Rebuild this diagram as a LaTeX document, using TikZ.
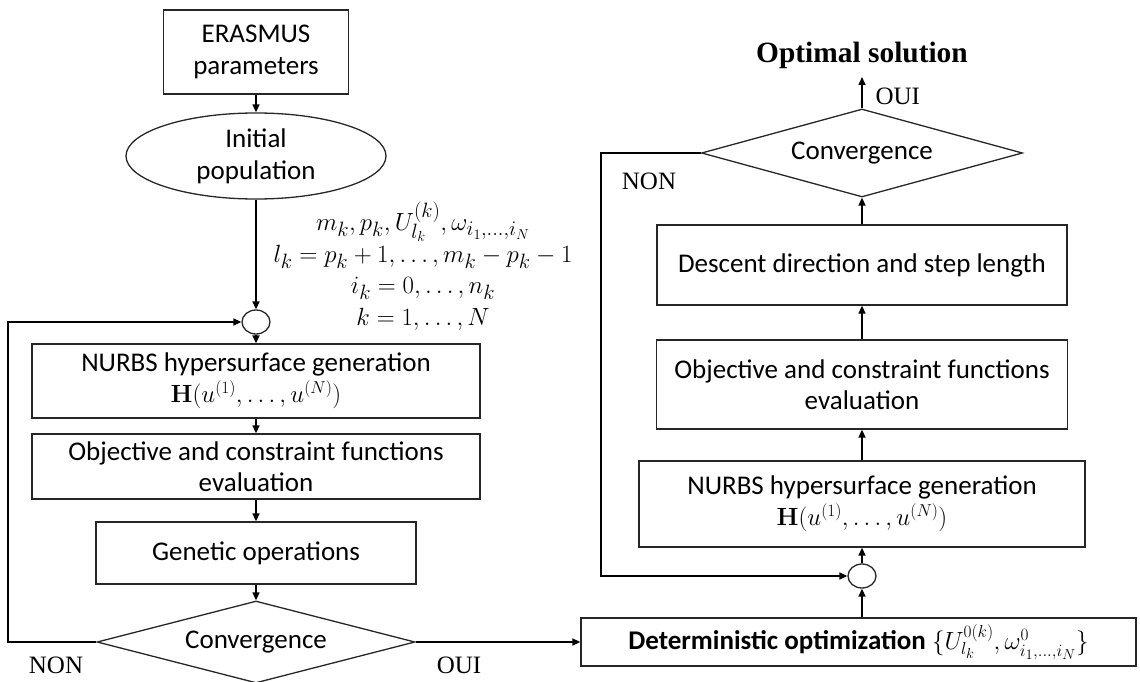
\documentclass[tikz,border=0pt]{standalone}
\usepackage[no-math]{fontspec}
\setmainfont{Carlito}
\newfontfamily\serifc{Liberation Serif}
\usetikzlibrary{shapes.geometric,arrows.meta}
\begin{document}
\begin{tikzpicture}[x=1pt,y=-1pt,
  every node/.style={font=\fontsize{27}{31}\selectfont, text=black},
  box/.style={draw=black!85, line width=1.3pt, rectangle, align=center, inner sep=0pt},
  oval/.style={draw=black!85, line width=1.3pt, ellipse, align=center, inner sep=0pt},
  junc/.style={draw=black!85, line width=1.3pt, ellipse, minimum width=28pt, minimum height=24pt, inner sep=0pt},
  dec/.style={draw=black!85, line width=1.3pt, diamond, inner sep=0pt, align=center},
  arr/.style={line width=1.5pt, -{Triangle[length=8pt,width=7pt]}},
  lab/.style={font=\serifc\fontsize{25}{30}\selectfont},
]
\useasboundingbox (0,0) rectangle (1140,682);

% left column
\node[box, minimum width=185pt, minimum height=84pt, font=\fontsize{27}{32}\selectfont] (eras) at (256,52) {ERASMUS\\parameters};
\node[oval, minimum width=260pt, minimum height=86pt, font=\fontsize{27}{32}\selectfont] (pop) at (256,156) {Initial\\population};
\node[junc] (c1) at (256,322) {};
\node[box, minimum width=448pt, minimum height=74pt] (nb1) at (256,381) {NURBS hypersurface generation\\{\fontsize{24.5}{30}\selectfont$\mathbf{H}(u^{(1)},\ldots,u^{(N)})$}};
\node[box, minimum width=448pt, minimum height=65pt] (ob1) at (256,466.5) {Objective and constraint functions\\evaluation};
\node[box, minimum width=320pt, minimum height=62pt] (gen) at (256,553) {Genetic operations};
\node[dec, minimum width=318pt, minimum height=82pt, aspect=3.9] (cv1) at (256,642) {Convergence};
\node[lab] (non1) at (56,665) {NON};
\node[lab] (oui1) at (459,665) {OUI};

\node[font=\fontsize{27.8}{31.5}\selectfont, align=center] (params) at (423,266)
  {$m_k, p_k, U^{(k)}_{l_k}, \omega_{i_1,\ldots,i_N}$\\
   $l_k = p_k+1,\ldots,m_k-p_k-1$\\
   $i_k=0,\ldots,n_k$\\
   $k=1,\ldots,N$};

% deterministic box
\node[box, minimum width=555pt, minimum height=48pt] (det) at (858.5,642)
  {\textbf{Deterministic optimization} {\fontsize{26.5}{30}\selectfont$\{U^{0(k)}_{l_k},\omega^{0}_{i_1,\ldots,i_N}\}$}};

% right column
\node[junc] (c2) at (862,576) {};
\node[box, minimum width=446pt, minimum height=86pt] (nb2) at (862,504) {NURBS hypersurface generation\\{\fontsize{24.5}{30}\selectfont$\mathbf{H}(u^{(1)},\ldots,u^{(N)})$}};
\node[box, minimum width=411pt, minimum height=89pt] (ob2) at (862,384.5) {Objective and constraint functions\\evaluation};
\node[box, minimum width=410pt, minimum height=80pt] (desc) at (862,265) {Descent direction and step length};
\node[dec, minimum width=321pt, minimum height=88pt, aspect=3.65] (cv2) at (862,153) {Convergence};
\node[font=\serifc\bfseries\fontsize{29.4}{32}\selectfont] (opt) at (862,55) {Optimal solution};
\node[lab, anchor=west] (oui2) at (872,96) {OUI};
\node[lab] (non2) at (649,181) {NON};
\coordinate (optin) at (862,77);

% connectors
\draw[arr] (eras) -- (pop);
\draw[arr] (pop) -- (c1);
\draw[arr] (c1) -- (nb1);
\draw[arr] (nb1) -- (ob1);
\draw[arr] (ob1) -- (gen);
\draw[arr] (gen) -- (cv1);
\coordinate (l1) at (8,642);
\draw[arr] (cv1.west) -- (l1) |- (c1.west);
\draw[arr] (cv1.east) -- (det.west);
\draw[arr] (c2 |- det.north) -- (c2.south);
\draw[arr] (c2) -- (nb2);
\draw[arr] (nb2) -- (ob2);
\draw[arr] (ob2) -- (desc);
\draw[arr] (desc) -- (cv2);
\draw[arr] (cv2) -- (optin);
\coordinate (l2) at (601,153);
\draw[arr] (cv2.west) -- (l2) |- (c2.west);
\end{tikzpicture}
\end{document}
